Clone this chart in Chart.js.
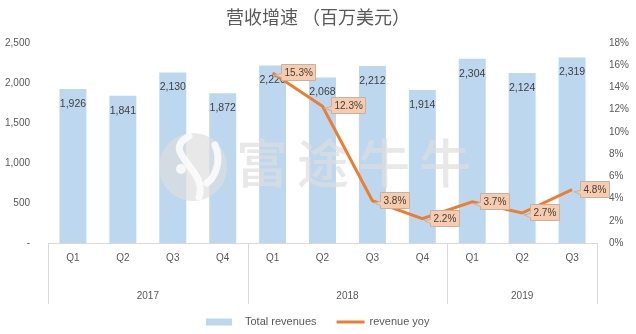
<!DOCTYPE html>
<html>
<head>
<meta charset="utf-8">
<script src="https://cdn.jsdelivr.net/npm/chart.js@4"></script>
<style>
  html, body { margin: 0; padding: 0; background: #ffffff; }
  #wrap { width: 636px; height: 334px; }
</style>
</head>
<body>
<div id="wrap"><canvas id="c" width="636" height="334"></canvas></div>
<script>
// Quarterly revenue (USD millions) and year-over-year growth (%)
const quarters = ['Q1', 'Q2', 'Q3', 'Q4', 'Q1', 'Q2', 'Q3', 'Q4', 'Q1', 'Q2', 'Q3'];
const years = ['2017', '2018', '2019'];
const quartersPerYear = [4, 4, 3];
const revenues = [1926, 1841, 2130, 1872, 2220, 2068, 2212, 1914, 2304, 2124, 2319];
const revenueYoy = [null, null, null, null, 15.3, 12.3, 3.8, 2.2, 3.7, 2.7, 4.8];
const revenueTicks = [0, 500, 1000, 1500, 2000, 2500];
const yoyTicks = [0, 2, 4, 6, 8, 10, 12, 14, 16, 18];

const BAR_COLOR = '#BDD7EE';
const LINE_COLOR = '#ED7D31';
const TEXT = '#595959';
const LABEL_TEXT = '#404040';
const AXIS_LINE = '#D9D9D9';
const FONT = '"Liberation Sans", Arial, sans-serif';
const MARK = 'rgba(222,222,222,0.7)';
const MARK_CUT = 'rgba(255,255,255,0.8)';

// Watermark sits above the bars but beneath the growth line
const watermark = {
  id: 'watermark',
  afterDatasetDraw(chart, args) {
    if (args.index !== 0) return;
    const ctx = chart.ctx;
    const a = chart.chartArea;
    const cx = a.left + 145, cy = a.top + 124;
    ctx.save();
    ctx.fillStyle = MARK;
    ctx.beginPath();
    ctx.arc(cx, cy, 34, 0, Math.PI * 2);
    ctx.fill();
    // swoosh inside the round badge
    ctx.strokeStyle = MARK_CUT;
    ctx.lineWidth = 7;
    ctx.lineCap = 'round';
    ctx.beginPath();
    ctx.moveTo(cx - 4, cy - 31);
    ctx.bezierCurveTo(cx - 34, cy - 14, cx + 16, cy + 2, cx + 6, cy + 30);
    ctx.stroke();
    ctx.beginPath();
    ctx.moveTo(cx + 22, cy - 22);
    ctx.bezierCurveTo(cx + 30, cy - 4, cx + 20, cy + 12, cx + 14, cy + 16);
    ctx.stroke();
    ctx.fillStyle = MARK_CUT;
    ctx.beginPath();
    ctx.arc(cx - 12, cy + 2, 5, 0, Math.PI * 2);
    ctx.fill();
    // brand name, drawn glyph by glyph for its wide spacing
    ctx.fillStyle = MARK;
    ctx.font = '500 52px "Noto Sans CJK SC", sans-serif';
    ctx.textBaseline = 'middle';
    ctx.textAlign = 'left';
    Array.from('富途牛牛').forEach((ch, i) => {
      ctx.fillText(ch, a.left + 188 + i * 61, cy - 4);
    });
    ctx.restore();
  }
};

// Value labels: inside the top of each bar, callout boxes beside each growth point
const valueLabels = {
  id: 'valueLabels',
  afterDatasetDraw(chart, args) {
    const ctx = chart.ctx;
    ctx.save();
    if (args.index === 0) {
      const meta = chart.getDatasetMeta(0);
      ctx.font = '10.5px ' + FONT;
      ctx.fillStyle = LABEL_TEXT;
      ctx.textAlign = 'center';
      ctx.textBaseline = 'middle';
      meta.data.forEach((el, i) => {
        ctx.fillText(revenues[i].toLocaleString('en-US'), el.x, el.y + 15);
      });
    } else if (args.index === 1) {
      const meta = chart.getDatasetMeta(1);
      ctx.font = '10px ' + FONT;
      ctx.textBaseline = 'middle';
      ctx.textAlign = 'left';
      meta.data.forEach((el, i) => {
        const v = revenueYoy[i];
        if (v === null || v === undefined) return;
        const text = v.toFixed(1) + '%';
        const w = Math.round(ctx.measureText(text).width) + 6;
        const h = 16;
        const bx = Math.round(el.x + 8) + 0.5;
        const by = Math.round(el.y - h / 2 - 1) + 0.5;
        ctx.beginPath();
        ctx.moveTo(bx, by);
        ctx.lineTo(bx + w, by);
        ctx.lineTo(bx + w, by + h);
        ctx.lineTo(bx, by + h);
        ctx.lineTo(bx, by + h - 3);
        ctx.lineTo(el.x + 2, el.y + 2);
        ctx.lineTo(bx, by + h - 7);
        ctx.closePath();
        ctx.fillStyle = '#F8CBAD';
        ctx.fill();
        ctx.strokeStyle = '#C4B2A6';
        ctx.lineWidth = 1;
        ctx.stroke();
        ctx.fillStyle = LABEL_TEXT;
        ctx.fillText(text, bx + 3, by + h / 2 + 0.5);
      });
    }
    ctx.restore();
  }
};

// Year groups under the quarter labels, with separator lines between years
const yearGroups = {
  id: 'yearGroups',
  afterDraw(chart) {
    const ctx = chart.ctx;
    const x = chart.scales.x;
    const top = chart.chartArea.bottom;
    const half = (x.getPixelForValue(1) - x.getPixelForValue(0)) / 2;
    ctx.save();
    ctx.strokeStyle = AXIS_LINE;
    ctx.lineWidth = 1;
    ctx.font = '10px ' + FONT;
    ctx.fillStyle = TEXT;
    ctx.textAlign = 'center';
    ctx.textBaseline = 'middle';
    let start = 0;
    const edges = [];
    quartersPerYear.forEach((n, g) => {
      const l = x.getPixelForValue(start) - half;
      const r = x.getPixelForValue(start + n - 1) + half;
      edges.push(l, r);
      ctx.fillText(years[g], (l + r) / 2, top + 53);
      start += n;
    });
    const uniq = [...new Set(edges.map(e => Math.round(e)))];
    uniq.forEach(e => {
      ctx.beginPath();
      ctx.moveTo(e + 0.5, top);
      ctx.lineTo(e + 0.5, top + 61);
      ctx.stroke();
    });
    ctx.restore();
  }
};

// Legend along the bottom: a filled box for the bars, a stroke for the line
const bottomLegend = {
  id: 'bottomLegend',
  afterDraw(chart) {
    const ctx = chart.ctx;
    const ds = chart.data.datasets;
    const y = 322;
    ctx.save();
    ctx.font = '11px ' + FONT;
    ctx.textBaseline = 'middle';
    ctx.textAlign = 'left';
    const w0 = ctx.measureText(ds[0].label).width;
    const w1 = ctx.measureText(ds[1].label).width;
    const total = 26 + 13 + w0 + 20 + 28 + 5 + w1;
    let x = Math.round(chart.width / 2 - total / 2);
    ctx.fillStyle = ds[0].backgroundColor;
    ctx.fillRect(x, y - 3.5, 26, 7);
    x += 26 + 13;
    ctx.fillStyle = TEXT;
    ctx.fillText(ds[0].label, x, y);
    x += w0 + 20;
    ctx.strokeStyle = ds[1].borderColor;
    ctx.lineWidth = 3;
    ctx.beginPath();
    ctx.moveTo(x, y);
    ctx.lineTo(x + 28, y);
    ctx.stroke();
    x += 28 + 5;
    ctx.fillStyle = TEXT;
    ctx.fillText(ds[1].label, x, y);
    ctx.restore();
  }
};

new Chart(document.getElementById('c'), {
  data: {
    labels: quarters,
    datasets: [
      {
        type: 'bar',
        label: 'Total revenues',
        data: revenues,
        backgroundColor: BAR_COLOR,
        borderWidth: 0,
        yAxisID: 'y',
        order: 2,
        categoryPercentage: 1,
        barPercentage: 0.54
      },
      {
        type: 'line',
        label: 'revenue yoy',
        data: revenueYoy,
        borderColor: LINE_COLOR,
        backgroundColor: LINE_COLOR,
        borderWidth: 3,
        pointRadius: 0,
        tension: 0,
        spanGaps: false,
        yAxisID: 'y1',
        order: 1
      }
    ]
  },
  options: {
    responsive: false,
    animation: false,
    devicePixelRatio: 1,
    layout: { padding: { top: 0, bottom: 0, left: 0, right: 0 } },
    plugins: {
      legend: { display: false },
      tooltip: { enabled: false },
      title: {
        display: true,
        text: '营收增速 （百万美元）',
        color: TEXT,
        font: { family: '"Noto Sans CJK SC", sans-serif', size: 18, weight: 'normal' },
        padding: { top: 6, bottom: 15.4 }
      }
    },
    scales: {
      x: {
        type: 'category',
        grid: { display: false, drawTicks: false },
        border: { display: true, color: AXIS_LINE, width: 1 },
        ticks: { color: TEXT, font: { family: FONT, size: 10 }, padding: 9, maxRotation: 0, autoSkip: false },
        afterFit(s) { s.height = 91; }
      },
      y: {
        position: 'left',
        min: 0,
        max: 2500,
        grid: { display: false, drawTicks: false },
        border: { display: false },
        afterBuildTicks(s) { s.ticks = revenueTicks.map(v => ({ value: v })); },
        ticks: {
          color: TEXT,
          font: { family: FONT, size: 10 },
          padding: 18,
          callback: v => (v === 0 ? '-' : v.toLocaleString('en-US'))
        },
        afterFit(s) { s.width = 48; }
      },
      y1: {
        position: 'right',
        min: 0,
        max: 18,
        grid: { display: false, drawTicks: false },
        border: { display: false },
        afterBuildTicks(s) { s.ticks = yoyTicks.map(v => ({ value: v })); },
        ticks: {
          color: TEXT,
          font: { family: FONT, size: 10 },
          padding: 12,
          callback: v => v + '%'
        },
        afterFit(s) { s.width = 39; }
      }
    }
  },
  plugins: [watermark, valueLabels, yearGroups, bottomLegend]
});
</script>
</body>
</html>
